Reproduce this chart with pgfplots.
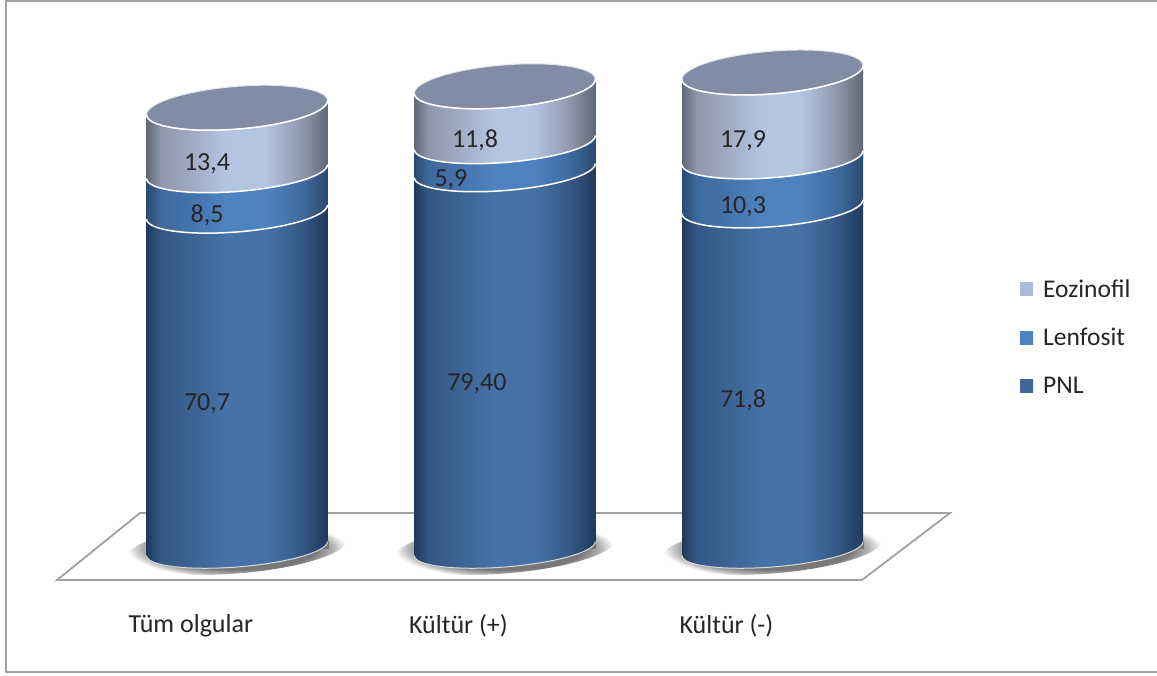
\documentclass[border=0pt]{standalone}
\usepackage{fontspec}
\setmainfont{Carlito}
\usepackage{pgfplots}
\usepackage{pgfplotstable}
\pgfplotsset{compat=1.18}

\definecolor{pnlE}{HTML}{1F3A5C}\definecolor{pnlS}{HTML}{345884}\definecolor{pnlT}{HTML}{3A6190}\definecolor{pnlM}{HTML}{4672A8}
\definecolor{lenE}{HTML}{2A4A70}\definecolor{lenS}{HTML}{3F6A9E}\definecolor{lenT}{HTML}{4471A9}\definecolor{lenM}{HTML}{4F82C0}
\definecolor{eozE}{HTML}{5F6875}\definecolor{eozS}{HTML}{8E98AC}\definecolor{eozT}{HTML}{9CA8BE}\definecolor{eozM}{HTML}{B4C5E2}
\definecolor{topM}{HTML}{808DA5}\definecolor{topL}{HTML}{E6E8ED}
\definecolor{frameG}{HTML}{A0A0A0}\definecolor{shadowG}{HTML}{787878}\definecolor{shadowH}{HTML}{B8B8B8}
\definecolor{footL}{HTML}{D9D9D9}
\definecolor{keyP}{HTML}{3F6797}\definecolor{keyE}{HTML}{AABBDC}
\definecolor{inkT}{HTML}{262626}

% Cylinder wall shadings: the path's width maps onto 25bp..75bp
\pgfdeclarehorizontalshading{wallpnl}{100bp}{color(0bp)=(pnlE);color(25bp)=(pnlE);color(29bp)=(pnlS);color(36bp)=(pnlT);color(47bp)=(pnlM);color(58bp)=(pnlM);color(68bp)=(pnlS);color(75bp)=(pnlE);color(100bp)=(pnlE)}
\pgfdeclarehorizontalshading{walllen}{100bp}{color(0bp)=(lenE);color(25bp)=(lenE);color(29bp)=(lenS);color(36bp)=(lenT);color(47bp)=(lenM);color(58bp)=(lenM);color(68bp)=(lenS);color(75bp)=(lenE);color(100bp)=(lenE)}
\pgfdeclarehorizontalshading{walleoz}{100bp}{color(0bp)=(eozE);color(25bp)=(eozE);color(29bp)=(eozS);color(36bp)=(eozT);color(47bp)=(eozM);color(58bp)=(eozM);color(68bp)=(eozS);color(75bp)=(eozE);color(100bp)=(eozE)}
\pgfdeclareradialshading{floorShadow}{\pgfpoint{0bp}{0bp}}{color(0bp)=(shadowG);color(18bp)=(shadowG);color(22bp)=(shadowH);color(25bp)=(white);color(50bp)=(white)}

% One small table per cylinder
\pgfplotstableread{
x pnl  lenfosit eozinofil
0 70.7 8.5      13.4
}\groupAll
\pgfplotstableread{
x pnl  lenfosit eozinofil
1 79.4 5.9      11.8
}\groupPos
\pgfplotstableread{
x pnl  lenfosit eozinofil
2 71.8 10.3     17.9
}\groupNeg

\pgfplotsset{
  cylinder axis/.style={
    at={(0,0)},anchor=south west,
    scale only axis,width=1157pt,height=675pt,
    xmin=-0.8852,xmax=3.4360,ymin=-26.576,ymax=115.231,
    clip=false,
    axis line style={draw=none},
    major tick length=0pt,
    ytick=\empty,xtick=\empty,
    ybar stacked,
    reverse stacked plots=false,
    bar width=181pt,
  },
}

% Front half of a tilted ellipse, left end to right end (half-axes #1, #2 in pt)
\newcommand{\frontArc}[2]{
  ({-#1pt},{-0.077*#1pt})
  .. controls ({-#1pt},{-0.5523*#2pt-0.077*#1pt}) and ({-0.5523*#1pt},{-#2pt-0.0425*#1pt}) .. (0pt,{-#2pt})
  .. controls ({0.5523*#1pt},{-#2pt+0.0425*#1pt}) and ({#1pt},{-0.5523*#2pt+0.077*#1pt}) .. ({#1pt},{0.077*#1pt})
}
% Whole tilted ellipse
\newcommand{\tiltedEllipse}[2]{
  \frontArc{#1}{#2}
  .. controls ({#1pt},{0.5523*#2pt+0.077*#1pt}) and ({0.5523*#1pt},{#2pt+0.0425*#1pt}) .. (0pt,{#2pt})
  .. controls ({-0.5523*#1pt},{#2pt-0.0425*#1pt}) and ({-#1pt},{0.5523*#2pt-0.077*#1pt}) .. ({-#1pt},{-0.077*#1pt})
  -- cycle
}
% Small wall pieces at the ends of a tilted edge, in the dark colours of the band's sides
% (#1 band prefix, #2 x position, #3 level)
\newcommand{\leftPiece}[3]{%
  \path[shade,left color=#1E,right color=#1S!50!#1E,shift={(axis cs:#2,#3)}] (-90.5pt,-7pt) rectangle (-84pt,1pt);
}
\newcommand{\rightPiece}[3]{%
  \path[shade,left color=#1S!50!#1E,right color=#1E,shift={(axis cs:#2,#3)}] (84pt,-1pt) rectangle (90.5pt,7pt);
}

% Boundary between two bands: wall pieces, full ellipse of the upper band, white front edge
\newcommand{\cylRim}[4]{%
  \leftPiece{#3}{#1}{#2}
  \rightPiece{#4}{#1}{#2}
  \path[shade,shading=wall#3,shift={(axis cs:#1,#2)}] \tiltedEllipse{90.5}{20};
  \draw[white,line width=1.5pt,shift={(axis cs:#1,#2)}] \frontArc{90.5}{20};
}
% Shadow under a cylinder
\newcommand{\cylShadow}[1]{%
  \path[shade,shading=floorShadow,shift={(axis cs:#1,0)}] \tiltedEllipse{110}{25};
}
% Curved foot of a cylinder, which also squares off the bar's lower corners
\newcommand{\cylFoot}[1]{%
  \leftPiece{pnl}{#1}{0}
  \fill[shadowG,shift={(axis cs:#1,0)}] (84pt,-1pt) rectangle (91.5pt,7pt);
  \path[shade,shading=wallpnl,shift={(axis cs:#1,0)}] \tiltedEllipse{90.5}{18.5};
  \draw[footL,line width=1pt,shift={(axis cs:#1,0)}] \frontArc{90.5}{18.5};
}
% Top of a cylinder: squares off the bar's upper corners, then the grey lid
\newcommand{\cylLid}[2]{%
  \rightPiece{eoz}{#1}{#2}
  \fill[white,shift={(axis cs:#1,#2)}] (-91.5pt,-7pt) rectangle (-84pt,1pt);
  \fill[topM,shift={(axis cs:#1,#2)}] \tiltedEllipse{90.5}{21.4};
  \draw[topL,line width=1pt,shift={(axis cs:#1,#2)}] \tiltedEllipse{90.5}{21.4};
  \draw[white,line width=1.5pt,shift={(axis cs:#1,#2)}] \frontArc{90.5}{21.4};
}
% The three stacked bands of one cylinder with their rims; #2..#4 are the running totals
\newcommand{\cylinderPlots}[5]{%
  \cylShadow{#1}
  \addplot[draw=none,shade,shading=wallpnl,
    legend image code/.code={\path[shade,shading=axis,left color=keyP,right color=keyP] (0pt,-6.5pt) rectangle (13pt,6.5pt);}]
    table[x=x,y=pnl] {#5};
  \cylFoot{#1}
  \addplot[draw=none,shade,shading=walllen,
    legend image code/.code={\path[shade,shading=axis,left color=lenM,right color=lenM] (0pt,-6.5pt) rectangle (13pt,6.5pt);}]
    table[x=x,y=lenfosit] {#5};
  \cylRim{#1}{#2}{len}{pnl}
  \addplot[draw=none,shade,shading=walleoz,
    legend image code/.code={\path[shade,shading=axis,left color=keyE,right color=keyE] (0pt,-6.5pt) rectangle (13pt,6.5pt);}]
    table[x=x,y=eozinofil] {#5};
  \cylRim{#1}{#3}{eoz}{len}
  \cylLid{#1}{#4}
}

\begin{document}
\begin{tikzpicture}
\useasboundingbox (0,0) rectangle (1157pt,675pt);
\fill[white] (0,0) rectangle (1157pt,675pt);
% Outer chart frame, open at the right
\draw[frameG,line width=2pt] (1157pt,674pt) -- (6pt,674pt) -- (6pt,3pt) -- (1157pt,3pt);
% Floor plane
\draw[frameG,line width=1.8pt,fill=white,line join=miter]
  (57pt,95pt) -- ++(805pt,0) -- ++(88pt,67pt) -- ++(-810pt,0) -- cycle;

\begin{axis}[cylinder axis,
  xtick={-0.172,0.827,1.828},
  xticklabels={Tüm olgular,Kültür (+),Kültür (-)},
  x tick label style={font=\fontsize{26}{30}\selectfont,text=inkT,anchor=center,yshift=49pt},
  reverse legend,
  legend cell align=left,
  legend style={at={(1017pt,338pt)},anchor=west,draw=none,fill=none,
    font=\fontsize{25.5}{29}\selectfont,text=inkT,row sep=25.5pt,
    /tikz/every odd column/.append style={column sep=8pt}},
]
\cylinderPlots{0}{70.7}{79.2}{92.6}{\groupAll}
\legend{PNL,Lenfosit,Eozinofil}
\node[font=\fontsize{26}{28}\selectfont,text=inkT,yshift=-2pt] at (axis cs:-0.112,30.78) {70,7};
\node[font=\fontsize{26}{28}\selectfont,text=inkT,yshift=-2pt] at (axis cs:-0.112,70.48) {8,5};
\node[font=\fontsize{26}{28}\selectfont,text=inkT,yshift=-2pt] at (axis cs:-0.112,81.2) {13,4};
\end{axis}

\begin{axis}[cylinder axis]
\cylinderPlots{1}{79.4}{85.3}{97.1}{\groupPos}
\node[font=\fontsize{26}{28}\selectfont,text=inkT,yshift=-2pt] at (axis cs:0.896,34.98) {79,40};
\node[font=\fontsize{26}{28}\selectfont,text=inkT,yshift=-2pt] at (axis cs:0.799,77.84) {5,9};
\node[font=\fontsize{26}{28}\selectfont,text=inkT,yshift=-2pt] at (axis cs:0.889,86.24) {11,8};
\end{axis}

\begin{axis}[cylinder axis]
\cylinderPlots{2}{71.8}{82.1}{100}{\groupNeg}
\node[font=\fontsize{26}{28}\selectfont,text=inkT,yshift=-2pt] at (axis cs:1.890,31.62) {71,8};
\node[font=\fontsize{26}{28}\selectfont,text=inkT,yshift=-2pt] at (axis cs:1.890,72.16) {10,3};
\node[font=\fontsize{26}{28}\selectfont,text=inkT,yshift=-2pt] at (axis cs:1.890,86.03) {17,9};
\end{axis}
\end{tikzpicture}
\end{document}
